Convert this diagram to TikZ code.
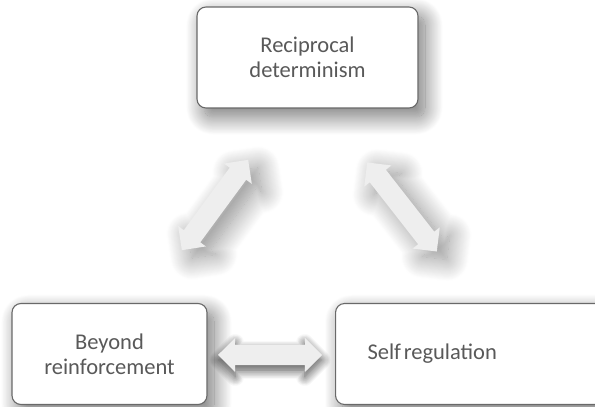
\documentclass[tikz,border=0pt]{standalone}
\usepackage{fontspec}
\setmainfont{Carlito}
\usepackage{tikz}
\usetikzlibrary{calc,shapes.arrows,shadows.blur,positioning}
\definecolor{mytext}{RGB}{89,89,89}
\definecolor{myborder}{RGB}{105,105,105}
\definecolor{myarrow}{RGB}{238,238,238}
\tikzstyle{topicbox}=[draw=myborder,line width=1.1pt,fill=white,rounded corners=9pt,
  minimum height=101pt,align=center,text=mytext,font=\fontsize{22.5}{25}\selectfont,
  blur shadow={shadow xshift=7pt,shadow yshift=-9pt,shadow blur radius=18pt,shadow opacity=55,shadow blur steps=25}]
\tikzstyle{linkarrow}=[double arrow,fill=myarrow,draw=none,inner xsep=0pt,inner ysep=10pt,
  double arrow head extend=7pt,
  blur shadow={shadow xshift=10pt,shadow yshift=-8pt,shadow blur radius=22pt,shadow opacity=45,shadow blur steps=25}]
\tikzstyle{flatarrow}=[linkarrow,
  blur shadow={shadow xshift=0pt,shadow yshift=-5pt,shadow blur radius=9pt,shadow opacity=40,shadow blur steps=15}]

\begin{document}
\begin{tikzpicture}[x=1pt,y=1pt]
\useasboundingbox (0,0) rectangle (595,407);
\clip (0,0) rectangle (595,407);
\draw (307.5, 349.5) node [topicbox, minimum width=221pt] (recip) {Reciprocal\\determinism};
\draw (109.5, 53) node [topicbox, minimum width=195pt] (beyond) {Beyond\\reinforcement};
\draw (335, 53) node [topicbox, anchor=west, minimum width=290pt, text width=226pt, inner xsep=32pt, align=left] (selfreg) {Self\hspace{0.12em}regulation};
% arrows between the boxes
\draw (215, 202) node [linkarrow, minimum height=112pt, rotate=53.7] (a1) {};
\draw (402, 200) node [linkarrow, minimum height=113pt, rotate=-52] (a2) {};
\draw (270, 52) node [flatarrow, minimum height=104pt] (a3) {};
\end{tikzpicture}
\end{document}
